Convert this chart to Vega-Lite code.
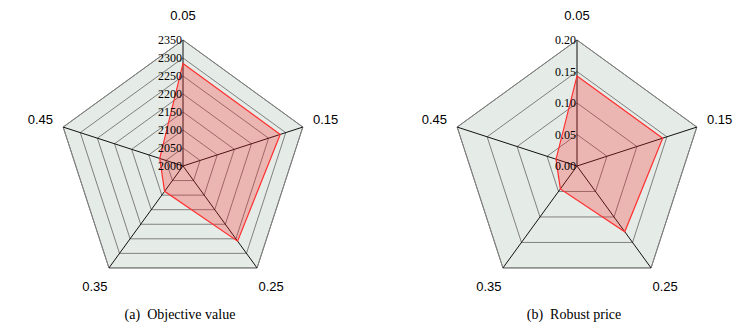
{
  "$schema": "https://vega.github.io/schema/vega-lite/v6.json",
  "padding": 0,
  "background": "white",
  "spacing": 42,
  "bounds": "flush",
  "config": {"view": {"stroke": null}},
  "datasets": {
    "axes": [
      {"k": 0, "label": "0.05"},
      {"k": 1, "label": "0.15"},
      {"k": 2, "label": "0.25"},
      {"k": 3, "label": "0.35"},
      {"k": 4, "label": "0.45"}
    ],
    "ringsA": [
      {"ring": 2000, "k": [0, 1, 2, 3, 4]},
      {"ring": 2050, "k": [0, 1, 2, 3, 4]},
      {"ring": 2100, "k": [0, 1, 2, 3, 4]},
      {"ring": 2150, "k": [0, 1, 2, 3, 4]},
      {"ring": 2200, "k": [0, 1, 2, 3, 4]},
      {"ring": 2250, "k": [0, 1, 2, 3, 4]},
      {"ring": 2300, "k": [0, 1, 2, 3, 4]},
      {"ring": 2350, "k": [0, 1, 2, 3, 4]}
    ],
    "ringsB": [
      {"ring": 0, "k": [0, 1, 2, 3, 4]},
      {"ring": 0.05, "k": [0, 1, 2, 3, 4]},
      {"ring": 0.1, "k": [0, 1, 2, 3, 4]},
      {"ring": 0.15, "k": [0, 1, 2, 3, 4]},
      {"ring": 0.2, "k": [0, 1, 2, 3, 4]}
    ],
    "objective": [
      {"k": 0, "alpha": "0.05", "value": 2285},
      {"k": 1, "alpha": "0.15", "value": 2284},
      {"k": 2, "alpha": "0.25", "value": 2258},
      {"k": 3, "alpha": "0.35", "value": 2087},
      {"k": 4, "alpha": "0.45", "value": 2068}
    ],
    "price": [
      {"k": 0, "alpha": "0.05", "value": 0.143},
      {"k": 1, "alpha": "0.15", "value": 0.143},
      {"k": 2, "alpha": "0.25", "value": 0.129},
      {"k": 3, "alpha": "0.35", "value": 0.045},
      {"k": 4, "alpha": "0.45", "value": 0.035}
    ]
  },
  "hconcat": [
    {
      "width": 366,
      "height": 305,
      "title": {"text": "(a)\u2002Objective value", "orient": "bottom", "anchor": "middle", "font": "Liberation Serif", "fontSize": 14, "fontWeight": "normal", "color": "black", "offset": 3, "dx": -3},
      "encoding": {
        "x": {"field": "x", "type": "quantitative", "scale": {"domain": [-1.45238, 1.45238], "nice": false, "zero": false}, "axis": null},
        "y": {"field": "y", "type": "quantitative", "scale": {"domain": [-1.10317, 1.31746], "nice": false, "zero": false}, "axis": null}
      },
      "layer": [
        {
          "data": {"name": "ringsA"},
          "transform": [
            {"filter": "datum.ring == 2350"},
            {"flatten": ["k"]},
            {"calculate": "PI/2 - 2*PI*datum.k/5", "as": "a"},
            {"calculate": "(datum.ring-2000)/350*cos(datum.a)", "as": "x"},
            {"calculate": "(datum.ring-2000)/350*sin(datum.a)", "as": "y"}
          ],
          "mark": {"type": "line", "interpolate": "linear-closed", "fill": "#e5ebe6", "stroke": "#7a7a7a", "strokeWidth": 1},
          "encoding": {"order": {"field": "k"}}
        },
        {
          "data": {"name": "ringsA"},
          "transform": [
            {"filter": "datum.ring > 2000"},
            {"flatten": ["k"]},
            {"calculate": "PI/2 - 2*PI*datum.k/5", "as": "a"},
            {"calculate": "(datum.ring-2000)/350*cos(datum.a)", "as": "x"},
            {"calculate": "(datum.ring-2000)/350*sin(datum.a)", "as": "y"}
          ],
          "mark": {"type": "line", "interpolate": "linear-closed", "stroke": "#808080", "strokeWidth": 1},
          "encoding": {"order": {"field": "k"}, "detail": {"field": "ring"}}
        },
        {
          "data": {"name": "axes"},
          "transform": [
            {"calculate": "PI/2 - 2*PI*datum.k/5", "as": "a"},
            {"calculate": "cos(datum.a)", "as": "x"},
            {"calculate": "sin(datum.a)", "as": "y"}
          ],
          "mark": {"type": "rule", "color": "#111111", "strokeWidth": 1},
          "encoding": {"x2": {"datum": 0}, "y2": {"datum": 0}}
        },
        {
          "data": {"name": "objective"},
          "transform": [
            {"calculate": "PI/2 - 2*PI*datum.k/5", "as": "a"},
            {"calculate": "(datum.value-2000)/350*cos(datum.a)", "as": "x"},
            {"calculate": "(datum.value-2000)/350*sin(datum.a)", "as": "y"}
          ],
          "mark": {"type": "line", "interpolate": "linear-closed", "fill": "#ff1a1a", "fillOpacity": 0.26, "stroke": "#ff3030", "strokeWidth": 1.2},
          "encoding": {"order": {"field": "k"}}
        },
        {
          "data": {"name": "ringsA"},
          "transform": [
            {"calculate": "0", "as": "x"},
            {"calculate": "(datum.ring-2000)/350", "as": "y"},
            {"calculate": "format(datum.ring, 'd')", "as": "tick"}
          ],
          "mark": {"type": "text", "align": "right", "baseline": "middle", "dx": -1, "font": "Liberation Serif", "fontSize": 12, "color": "black"},
          "encoding": {"text": {"field": "tick"}}
        },
        {
          "data": {"name": "axes"},
          "transform": [
            {"calculate": "PI/2 - 2*PI*datum.k/5", "as": "a"},
            {"calculate": "1.19*cos(datum.a)", "as": "x"},
            {"calculate": "1.19*sin(datum.a)", "as": "y"}
          ],
          "mark": {"type": "text", "align": "center", "baseline": "middle", "font": "Liberation Sans", "fontSize": 13, "color": "black"},
          "encoding": {"text": {"field": "label"}}
        }
      ]
    },
    {
      "width": 338,
      "height": 305,
      "title": {"text": "(b)\u2002Robust price", "orient": "bottom", "anchor": "middle", "font": "Liberation Serif", "fontSize": 14, "fontWeight": "normal", "color": "black", "offset": 3, "dx": -3},
      "encoding": {
        "x": {"field": "x", "type": "quantitative", "scale": {"domain": [-1.34127, 1.34127], "nice": false, "zero": false}, "axis": null},
        "y": {"field": "y", "type": "quantitative", "scale": {"domain": [-1.10317, 1.31746], "nice": false, "zero": false}, "axis": null}
      },
      "layer": [
        {
          "data": {"name": "ringsB"},
          "transform": [
            {"filter": "datum.ring == 0.2"},
            {"flatten": ["k"]},
            {"calculate": "PI/2 - 2*PI*datum.k/5", "as": "a"},
            {"calculate": "datum.ring/0.2*cos(datum.a)", "as": "x"},
            {"calculate": "datum.ring/0.2*sin(datum.a)", "as": "y"}
          ],
          "mark": {"type": "line", "interpolate": "linear-closed", "fill": "#e5ebe6", "stroke": "#7a7a7a", "strokeWidth": 1},
          "encoding": {"order": {"field": "k"}}
        },
        {
          "data": {"name": "ringsB"},
          "transform": [
            {"filter": "datum.ring > 0"},
            {"flatten": ["k"]},
            {"calculate": "PI/2 - 2*PI*datum.k/5", "as": "a"},
            {"calculate": "datum.ring/0.2*cos(datum.a)", "as": "x"},
            {"calculate": "datum.ring/0.2*sin(datum.a)", "as": "y"}
          ],
          "mark": {"type": "line", "interpolate": "linear-closed", "stroke": "#808080", "strokeWidth": 1},
          "encoding": {"order": {"field": "k"}, "detail": {"field": "ring"}}
        },
        {
          "data": {"name": "axes"},
          "transform": [
            {"calculate": "PI/2 - 2*PI*datum.k/5", "as": "a"},
            {"calculate": "cos(datum.a)", "as": "x"},
            {"calculate": "sin(datum.a)", "as": "y"}
          ],
          "mark": {"type": "rule", "color": "#111111", "strokeWidth": 1},
          "encoding": {"x2": {"datum": 0}, "y2": {"datum": 0}}
        },
        {
          "data": {"name": "price"},
          "transform": [
            {"calculate": "PI/2 - 2*PI*datum.k/5", "as": "a"},
            {"calculate": "datum.value/0.2*cos(datum.a)", "as": "x"},
            {"calculate": "datum.value/0.2*sin(datum.a)", "as": "y"}
          ],
          "mark": {"type": "line", "interpolate": "linear-closed", "fill": "#ff1a1a", "fillOpacity": 0.26, "stroke": "#ff3030", "strokeWidth": 1.2},
          "encoding": {"order": {"field": "k"}}
        },
        {
          "data": {"name": "ringsB"},
          "transform": [
            {"calculate": "0", "as": "x"},
            {"calculate": "datum.ring/0.2", "as": "y"},
            {"calculate": "format(datum.ring, '.2f')", "as": "tick"}
          ],
          "mark": {"type": "text", "align": "right", "baseline": "middle", "dx": -1, "font": "Liberation Serif", "fontSize": 12, "color": "black"},
          "encoding": {"text": {"field": "tick"}}
        },
        {
          "data": {"name": "axes"},
          "transform": [
            {"calculate": "PI/2 - 2*PI*datum.k/5", "as": "a"},
            {"calculate": "1.19*cos(datum.a)", "as": "x"},
            {"calculate": "1.19*sin(datum.a)", "as": "y"}
          ],
          "mark": {"type": "text", "align": "center", "baseline": "middle", "font": "Liberation Sans", "fontSize": 13, "color": "black"},
          "encoding": {"text": {"field": "label"}}
        }
      ]
    }
  ]
}
